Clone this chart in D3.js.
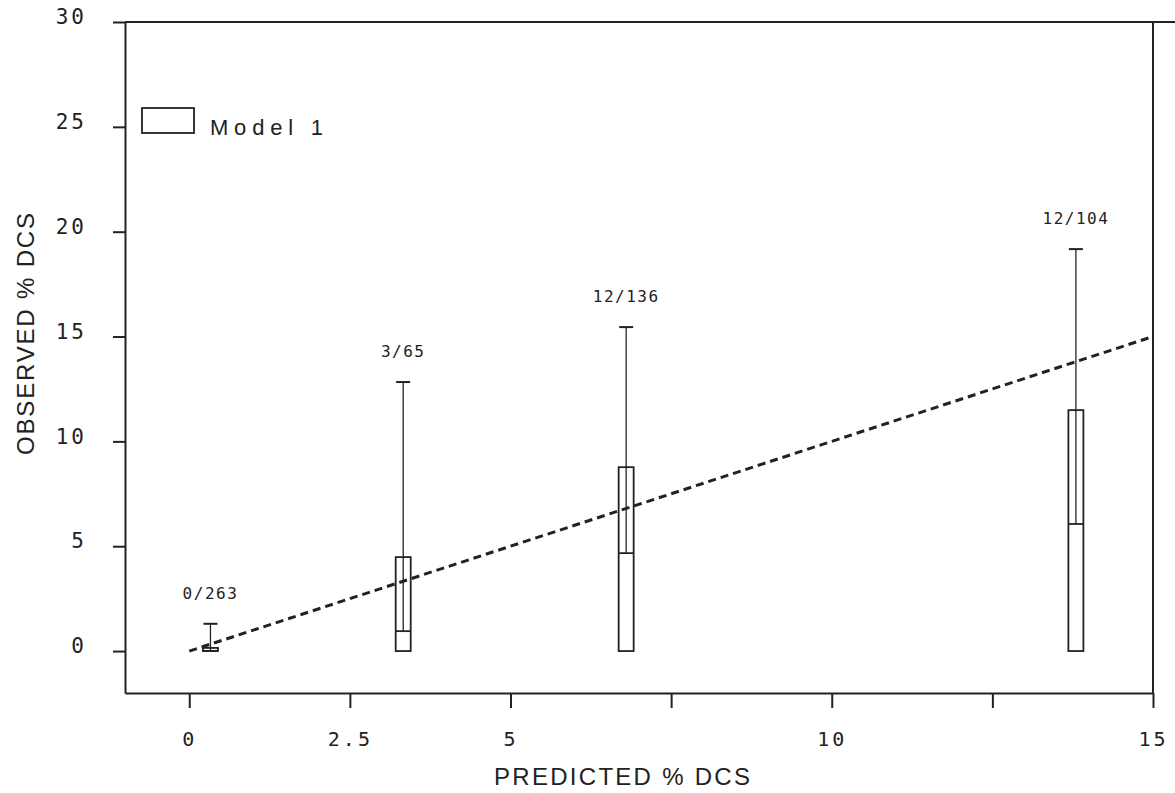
<!DOCTYPE html>
<html>
<head>
<meta charset="utf-8">
<script src="https://d3js.org/d3.v7.min.js"></script>
<style>
  body { margin: 0; background: #fff; }
  .tick text { font-family: "DejaVu Sans Mono", monospace; fill: #222; }
</style>
</head>
<body>
<div id="chart"></div>
<script>
// data
var groupLabels = ["0/263", "3/65", "12/136", "12/104"];
var predicted   = [0.33, 3.33, 6.8, 13.8];
var lowerQ      = [0, 0, 0, 0];
var medians     = [0, 0.95, 4.67, 6.06];
var upperQ      = [0.15, 4.48, 8.77, 11.49];
var whiskerTop  = [1.3, 12.83, 15.45, 19.17];

var xTicks = [0, 2.5, 5, 7.5, 10, 12.5, 15];
var xTickLabels = ["0", "2.5", "5", "", "10", "", "15"];
var yTicks = [0, 5, 10, 15, 20, 25, 30];

var identity = [0, 15];   // predicted = observed line

var W = 1175, H = 793;
var ink = "#222";

var svg = d3.select("#chart").append("svg")
    .attr("width", W)
    .attr("height", H);

var x = d3.scaleLinear().domain([-1, 15]).range([125, 1153]);
var y = d3.scaleLinear().domain([-2, 30]).range([693, 22]);

// frame: top and right sides
svg.append("line")
    .attr("x1", x(-1)).attr("x2", W)
    .attr("y1", y(30)).attr("y2", y(30))
    .attr("stroke", ink).attr("stroke-width", 2);
svg.append("line")
    .attr("x1", x(15)).attr("x2", x(15))
    .attr("y1", y(30)).attr("y2", y(-2))
    .attr("stroke", ink).attr("stroke-width", 2);

// x axis
var xAxis = svg.append("g")
    .attr("transform", "translate(0," + y(-2) + ")")
    .call(d3.axisBottom(x)
        .tickValues(xTicks)
        .tickSize(15)
        .tickSizeOuter(0)
        .tickFormat(function(d, i) { return xTickLabels[i]; }));
xAxis.selectAll("text")
    .attr("y", 53).attr("dy", "0")
    .style("font-size", "20px")
    .style("letter-spacing", "3px");

// y axis
var yAxis = svg.append("g")
    .attr("transform", "translate(" + x(-1) + ",0)")
    .call(d3.axisLeft(y)
        .tickValues(yTicks)
        .tickSize(12)
        .tickSizeOuter(0)
        .tickPadding(26));
yAxis.selectAll("text")
    .attr("dy", "0.08em")
    .style("font-size", "21px")
    .style("letter-spacing", "3px");

svg.selectAll(".domain, .tick line")
    .attr("stroke", ink)
    .attr("stroke-width", 2);

// axis titles
svg.append("text")
    .attr("x", 494).attr("y", 785)
    .attr("textLength", 256)
    .attr("lengthAdjust", "spacing")
    .style("font-family", "Liberation Sans, Arial, sans-serif")
    .style("font-size", "24px")
    .style("fill", ink)
    .text("PREDICTED % DCS");

svg.append("text")
    .attr("transform", "translate(34,455) rotate(-90)")
    .attr("textLength", 242)
    .attr("lengthAdjust", "spacing")
    .style("font-family", "Liberation Sans, Arial, sans-serif")
    .style("font-size", "24px")
    .style("fill", ink)
    .text("OBSERVED % DCS");

// legend
svg.append("rect")
    .attr("x", 142).attr("y", 108)
    .attr("width", 52).attr("height", 25)
    .attr("fill", "none")
    .attr("stroke", ink).attr("stroke-width", 1.8);
svg.append("text")
    .attr("x", 210).attr("y", 135)
    .attr("textLength", 113)
    .attr("lengthAdjust", "spacing")
    .style("font-family", "Liberation Sans, Arial, sans-serif")
    .style("font-size", "22px")
    .style("fill", ink)
    .text("Model 1");

// dashed line of identity
svg.append("line")
    .attr("x1", x(identity[0])).attr("y1", y(identity[0]))
    .attr("x2", x(identity[1])).attr("y2", y(identity[1]))
    .attr("stroke", ink)
    .attr("stroke-width", 3)
    .attr("stroke-dasharray", "8,5");

// box plots
var boxW = 15, capW = 14;
var groups = svg.append("g").selectAll("g")
    .data(groupLabels)
    .enter().append("g");

// whisker from cap down to the median
groups.append("line")
    .attr("x1", function(d, i) { return x(predicted[i]); })
    .attr("x2", function(d, i) { return x(predicted[i]); })
    .attr("y1", function(d, i) { return y(whiskerTop[i]); })
    .attr("y2", function(d, i) { return y(medians[i]); })
    .attr("stroke", ink).attr("stroke-width", 1.3);

groups.append("line")
    .attr("x1", function(d, i) { return x(predicted[i]) - capW / 2; })
    .attr("x2", function(d, i) { return x(predicted[i]) + capW / 2; })
    .attr("y1", function(d, i) { return y(whiskerTop[i]); })
    .attr("y2", function(d, i) { return y(whiskerTop[i]); })
    .attr("stroke", ink).attr("stroke-width", 2);

groups.append("rect")
    .attr("x", function(d, i) { return x(predicted[i]) - boxW / 2; })
    .attr("y", function(d, i) { return y(upperQ[i]); })
    .attr("width", boxW)
    .attr("height", function(d, i) { return y(lowerQ[i]) - y(upperQ[i]); })
    .attr("fill", "none")
    .attr("stroke", ink).attr("stroke-width", 1.8);

groups.append("line")
    .attr("x1", function(d, i) { return x(predicted[i]) - boxW / 2; })
    .attr("x2", function(d, i) { return x(predicted[i]) + boxW / 2; })
    .attr("y1", function(d, i) { return y(medians[i]); })
    .attr("y2", function(d, i) { return y(medians[i]); })
    .attr("stroke", ink).attr("stroke-width", 1.8);

groups.append("text")
    .attr("x", function(d, i) { return x(predicted[i]); })
    .attr("y", function(d, i) { return y(whiskerTop[i]) - 25; })
    .attr("text-anchor", "middle")
    .style("font-family", "DejaVu Sans Mono, monospace")
    .style("font-size", "16px")
    .style("letter-spacing", "1.5px")
    .style("fill", ink)
    .text(function(d) { return d; });
</script>
</body>
</html>
